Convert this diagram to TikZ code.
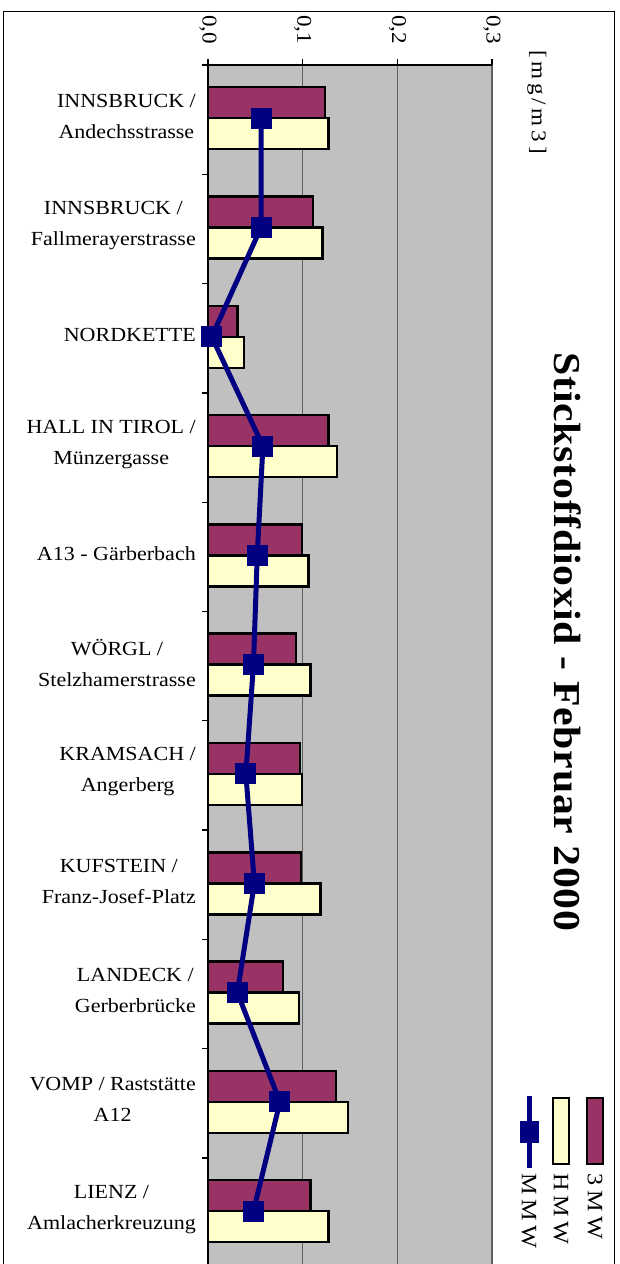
\documentclass[tikz,border=0pt]{standalone}
\usepackage{fontspec}
\setmainfont{Liberation Serif}[FakeStretch=1.1]
\usetikzlibrary{positioning}
\definecolor{plum}{HTML}{993366}
\definecolor{cream}{HTML}{FFFFCC}
\definecolor{navy}{HTML}{000080}
\definecolor{plotgray}{HTML}{C0C0C0}
\definecolor{gridgray}{HTML}{606060}
\tikzset{
  lab/.style={font=\fontsize{20}{31}\selectfont, align=center, anchor=east, inner sep=0pt},
  ticklab/.style={font=\fontsize{21}{22}\selectfont, rotate=-90, anchor=west, inner sep=0pt},
  legtext/.style={font=\fontsize{22}{24}\selectfont\addfontfeature{LetterSpace=22}, rotate=-90, anchor=west, inner sep=0pt},
  bar3/.style={draw=black, line width=2.5pt, fill=plum},
  barh/.style={draw=black, line width=2.5pt, fill=cream},
  mmwline/.style={navy, line width=5pt},
  mmwmark/.style={fill=navy, minimum size=21pt, inner sep=0pt},
  legbox/.style={draw=black, line width=2pt, minimum width=16pt, minimum height=66pt, inner sep=0pt}
}

\begin{document}
\begin{tikzpicture}[x=1pt,y=-1pt]
\useasboundingbox (0,0) rectangle (619,1264);
\draw[line width=1pt] (3.5,11) rectangle (614,1290);
% plot area and grid
\fill[plotgray] (208,65) rectangle (492.1,1290);
\foreach \g in {302.7,397.4,492.1}
  \draw[gridgray, line width=1.3pt] (\g,65) -- (\g,1290);
\draw[line width=1.3pt] (202,65) -- (492.1,65);
\draw[line width=1.3pt] (208,59) -- (208,1290);
\foreach \g/\t [count=\j] in {208/{0,0},302.7/{0,1},397.4/{0,2},492.1/{0,3}}{
  \draw[line width=1.3pt] (\g,59) -- (\g,65);
  \node[ticklab] (tick\j) at (\g,15) {\t};
}
\foreach \k in {1,...,11}
  \draw[line width=1.3pt] (202,65+109.3*\k) -- (208,65+109.3*\k);
\node[ticklab, font=\fontsize{21}{22}\selectfont\addfontfeature{LetterSpace=18}] (unit) at (537,50) {[mg/m3]};
% bars
\foreach \lab/\tmw/\hmw/\mmw [count=\i] in {
  {INNSBRUCK /\\Andechsstrasse}/.1235/.127/.056,
  {INNSBRUCK /\\Fallmerayerstrasse}/.111/.121/.056,
  {NORDKETTE}/.031/.038/.004,
  {HALL IN TIROL /\\Münzergasse}/.127/.136/.058,
  {A13 - Gärberbach}/.099/.106/.052,
  {WÖRGL /\\Stelzhamerstrasse}/.093/.108/.048,
  {KRAMSACH /\\Angerberg}/.097/.099/.040,
  {KUFSTEIN /\\Franz-Josef-Platz}/.098/.119/.049,
  {LANDECK /\\Gerberbrücke}/.079/.096/.031,
  {VOMP / Raststätte\\A12}/.135/.148/.076,
  {LIENZ /\\Amlacherkreuzung}/.108/.127/.048}{
  \pgfmathsetmacro\yc{63.5+109.3*(\i-0.5)}
  \node[lab] (lab\i) at (196,\yc-2) {\lab};
  \draw[bar3] (208,\yc-31) rectangle ({208+947*\tmw},\yc);
  \draw[barh] (208,\yc) rectangle ({208+947*\hmw},\yc+31);
  \coordinate (p\i) at ({208+947*\mmw},\yc);
}
\draw[mmwline] (p1) \foreach \k in {2,...,11}{ -- (p\k)};
\foreach \k in {1,...,11}
  \node[mmwmark] (mk\k) at (p\k) {};
% title
\node[rotate=-90, inner sep=0pt, font=\fontsize{38}{40}\selectfont\bfseries\addfontfeature{LetterSpace=2}] (title) at (568,642) {Stickstoffdioxid - Februar 2000};
% legend
\node[legbox, fill=plum] (leg3) at (595,1131) {};
\node[legbox, fill=cream] (legh) at (561,1131) {};
\coordinate (lmtop) at (529.5,1096);
\coordinate (lmbot) at (529.5,1168);
\draw[mmwline] (lmtop) -- (lmbot);
\node[mmwmark, minimum width=19pt, minimum height=22pt] (legm) at (529.5,1132) {};
\node[legtext] (t3) at (595,1173) {3MW};
\node[legtext] (th) at (561,1173) {HMW};
\node[legtext] (tm) at (529,1173) {MMW};
\end{tikzpicture}
\end{document}
